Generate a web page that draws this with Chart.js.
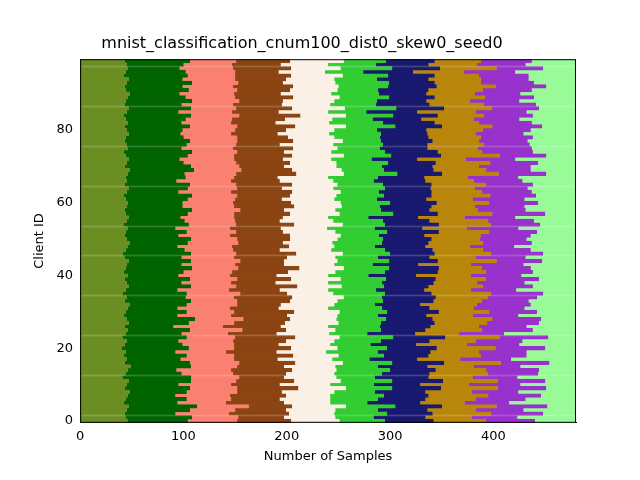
<!DOCTYPE html>
<html>
<head>
<meta charset="utf-8">
<script src="https://cdn.jsdelivr.net/npm/chart.js@4"></script>
<style>
  html, body { margin:0; padding:0; background:#fff; }
  #wrap { width:640px; height:480px; }
</style>
</head>
<body>
<div id="wrap"><canvas id="c" width="640" height="480"></canvas></div>
<script>
// samples per class for each client (index = client ID)
const c0 = [46,44,43,45,47,42,44,46,48,43,45,47,41,44,46,49,43,45,42,44,40,43,45,41,44,46,43,47,45,42,44,46,48,43,45,41,44,47,45,43,46,42,44,45,47,43,41,44,46,48,45,43,44,46,42,45,47,44,43,45,46,44,42,45,47,43,45,44,46,48,43,45,47,44,42,46,45,43,44,47,45,43,46,44,42,45,47,43,44,46,48,44,43,45,47,42,44,46,45,43];
const c1 = [58,64,49,61,66,52,59,46,55,63,50,60,66,54,47,58,63,52,61,48,65,56,50,62,54,60,47,58,66,52,59,48,55,64,57,62,50,60,53,63,49,58,64,53,60,55,66,57,48,56,62,52,59,46,63,56,50,60,65,54,53,60,66,50,57,63,48,58,55,62,64,55,49,60,66,52,58,63,56,50,54,63,52,58,65,50,60,55,64,56,48,61,56,63,52,62,58,50,55,63];
const c2 = [48,45,52,44,50,47,43,53,49,46,51,44,47,50,53,45,48,52,46,49,44,50,53,47,45,51,48,44,47,52,46,51,49,45,47,52,50,44,48,46,50,47,45,52,48,51,44,47,53,49,45,50,48,53,46,49,52,45,47,50,49,46,44,51,48,45,53,47,50,46,47,51,53,45,44,50,48,46,52,49,51,46,48,45,47,52,44,50,46,48,53,47,49,45,51,46,48,52,47,45];
const c3 = [52,44,58,49,42,56,47,54,43,59,47,56,43,51,59,45,54,42,57,49,55,43,51,58,47,42,56,49,45,54,58,47,42,51,56,45,49,59,43,52,45,54,59,47,42,51,58,45,55,43,51,58,45,49,56,43,47,54,42,58,56,45,51,59,43,54,47,42,58,49,43,52,47,56,45,58,42,54,49,45,49,56,43,51,59,45,54,47,42,56,45,51,58,43,49,54,42,56,47,52];
const c4 = [47,50,44,48,52,45,49,43,51,46,49,45,51,47,43,50,46,53,44,48,45,50,47,43,51,48,46,52,45,49,44,48,52,46,50,45,47,43,51,48,50,46,43,49,52,47,45,50,44,48,46,49,51,45,47,52,44,48,50,46,48,51,45,47,50,44,52,49,46,48,51,45,47,50,46,43,52,48,45,50,47,49,52,46,44,48,51,47,50,45,49,46,44,51,47,50,45,48,46,52];
const c5 = [44,37,51,41,48,36,46,52,39,45,42,50,37,46,52,41,48,36,44,50,48,39,45,52,37,44,50,41,48,39,46,52,39,44,37,50,46,41,52,44,39,48,44,37,50,41,46,52,39,48,44,37,50,46,41,48,39,52,44,37,48,41,46,37,50,44,39,48,52,41,44,50,39,46,52,41,48,37,44,50,41,48,52,39,46,37,50,44,41,48,46,39,48,52,41,44,37,50,46,41];
const c6 = [47,50,44,48,45,51,46,43,49,47,45,49,52,46,44,48,50,46,43,51,48,44,47,50,46,43,49,52,45,47,50,46,44,49,52,45,47,43,50,48,46,51,48,44,47,50,43,46,49,45,47,44,50,46,52,45,48,43,47,50,45,48,46,51,44,47,50,45,43,48,49,46,44,48,51,46,43,50,47,45,48,45,50,47,43,49,46,52,48,44,46,49,47,44,50,45,48,46,51,47];
const c7 = [51,45,57,47,53,43,49,58,45,55,47,53,43,57,49,45,55,42,51,47,57,49,45,53,43,55,47,51,58,45,49,43,55,47,51,58,45,53,42,49,53,47,42,51,57,45,55,49,43,53,47,55,49,43,51,57,45,53,47,42,51,45,57,49,43,53,47,42,55,51,45,53,47,57,43,49,55,45,51,47,55,49,43,51,45,57,47,53,42,49,47,53,57,45,51,43,49,55,47,45];
const c8 = [47,44,50,46,49,43,48,51,45,47,50,46,43,48,51,45,47,49,44,46,48,51,45,47,43,49,46,50,47,44,46,49,52,45,47,50,44,48,46,51,49,45,47,51,44,48,50,46,43,47,45,48,46,50,47,44,49,51,46,48,47,50,44,48,51,45,47,49,46,43,50,46,48,45,49,52,44,47,50,46,46,48,51,44,47,49,45,50,48,47,44,47,49,51,46,48,50,45,47,49];
const c9 = new Array(100).fill(80); // rest runs past the x limit

const classData = [c0, c1, c2, c3, c4, c5, c6, c7, c8, c9];
const classColors = ['#6b8e23','#006400','#fa8072','#8b4513','#faf0e6','#32cd32','#191970','#b8860b','#9932cc','#98fb98'];
const clientIds = Array.from({length: 100}, (_, i) => String(i));
const yTicks = [0, 20, 40, 60, 80];
const xTicks = [0, 100, 200, 300, 400];

const datasets = classData.map((d, i) => ({
  label: 'class ' + i,
  data: d,
  backgroundColor: classColors[i],
  borderColor: classColors[i],
  borderWidth: 1,
  borderSkipped: false,
  categoryPercentage: 1.0,
  barPercentage: 1.0
}));

// black frame round the plot area
const framePlugin = {
  id: 'frame',
  afterDraw(chart){
    const a = chart.chartArea, ctx = chart.ctx;
    ctx.save();
    ctx.strokeStyle = '#000';
    ctx.lineWidth = 1;
    ctx.strokeRect(a.left + 0.5, a.top + 0.5, a.right - a.left - 1, a.bottom - a.top - 1);
    ctx.restore();
  }
};

const font = { family: 'DejaVu Sans', size: 13 };

new Chart(document.getElementById('c'), {
  type: 'bar',
  data: { labels: clientIds, datasets },
  options: {
    indexAxis: 'y',
    responsive: false,
    animation: false,
    layout: { padding: { left: 28, right: 64, top: 34, bottom: 12 } },
    plugins: {
      legend: { display: false },
      tooltip: { enabled: false },
      title: {
        display: true,
        text: 'mnist_classification_cnum100_dist0_skew0_seed0',
        color: '#000',
        font: { family: 'DejaVu Sans', size: 16, weight: 'normal' },
        padding: { top: 0, bottom: 6 }
      }
    },
    scales: {
      x: {
        stacked: true,
        min: 0, max: 480,
        grid: { display: false, drawTicks: true, tickLength: 4, tickColor: '#000' },
        border: { color: '#000' },
        afterBuildTicks(ax){ ax.ticks = xTicks.map(v => ({ value: v })); },
        ticks: { color: '#000', font, padding: 2 },
        title: { display: true, text: 'Number of Samples', color: '#000', font, padding: { top: 2 } }
      },
      y: {
        stacked: true,
        reverse: true,
        grid: { display: false, drawTicks: true, tickLength: 4, tickColor: '#000' },
        border: { color: '#000' },
        ticks: {
          color: '#000', font, autoSkip: false, padding: 3,
          callback(v){ return yTicks.includes(v) ? String(v) : ''; }
        },
        afterTickToLabelConversion(ax){
          ax.ticks = ax.ticks.filter(t => yTicks.includes(t.value));
        },
        title: { display: true, text: 'Client ID', color: '#000', font, padding: { bottom: 6 } }
      }
    }
  },
  plugins: [framePlugin]
});
</script>
</body>
</html>
